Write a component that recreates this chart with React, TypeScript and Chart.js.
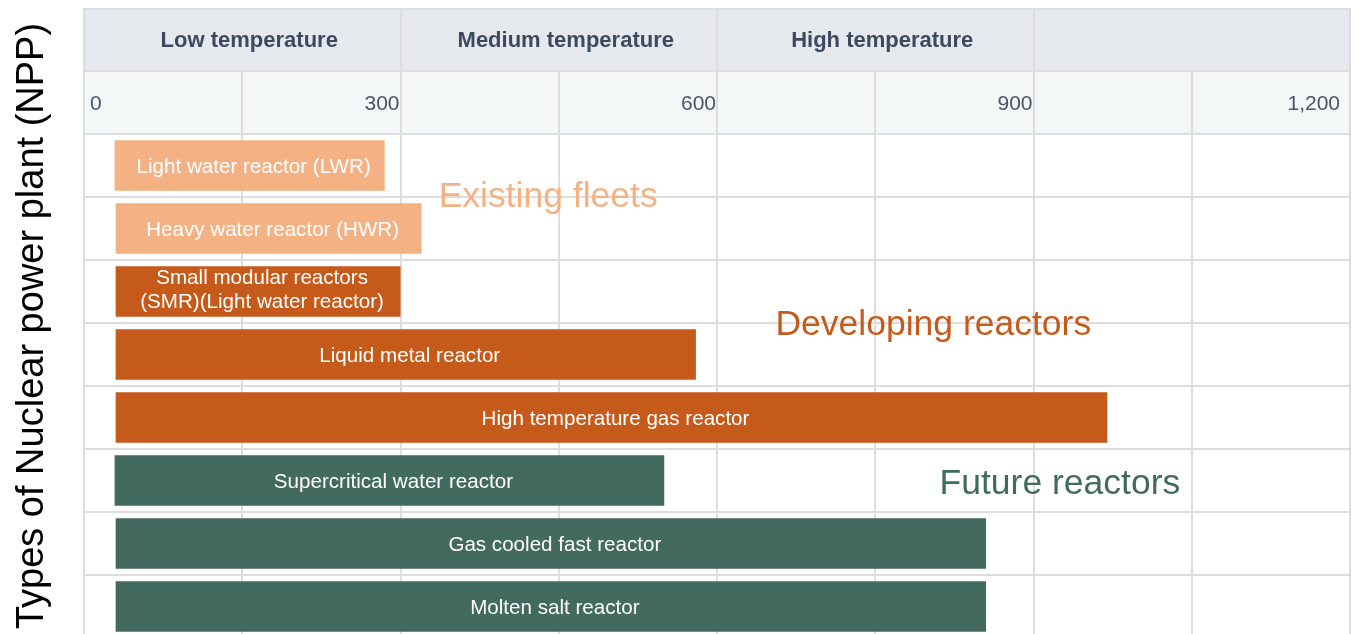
import React, { useEffect, useRef } from 'react';
import { Chart, registerables } from 'chart.js';

Chart.register(...registerables);

// ---------- data ----------
const categories = [
  'Light water reactor (LWR)',
  'Heavy water reactor (HWR)',
  'Small modular reactors (SMR)(Light water reactor)',
  'Liquid metal reactor',
  'High temperature gas reactor',
  'Supercritical water reactor',
  'Gas cooled fast reactor',
  'Molten salt reactor',
];
const barLabels: string[][] = [
  ['Light water reactor (LWR)'],
  ['Heavy water reactor (HWR)'],
  ['Small modular reactors', '(SMR)(Light water reactor)'],
  ['Liquid metal reactor'],
  ['High temperature gas reactor'],
  ['Supercritical water reactor'],
  ['Gas cooled fast reactor'],
  ['Molten salt reactor'],
];
const startTemps = [29, 30, 30, 30, 30, 29, 30, 30];
const endTemps = [285, 320, 300, 580, 970, 550, 855, 855];
const groups = ['existing', 'existing', 'developing', 'developing', 'developing', 'future', 'future', 'future'];

const groupColors: Record<string, string> = {
  existing: '#f4b183',
  developing: '#c55a1a',
  future: '#436a5f',
};

const bandLabels = ['Low temperature', 'Medium temperature', 'High temperature', ''];
const bandEdges = [0, 300, 600, 900, 1200];
const tickValues = [0, 300, 600, 900, 1200];
const tickLabels = ['0', '300', '600', '900', '1,200'];
const gridValues = [0, 150, 300, 450, 600, 750, 900, 1050, 1200];

const annotationTexts = ['Existing fleets', 'Developing reactors', 'Future reactors'];
const annotationGroups = ['existing', 'developing', 'future'];
const annotationX = [440, 805, 925];
const annotationRow = [0.45, 2.49, 5.02];

const yTitle = 'Types of Nuclear power plant (NPP)';

// ---------- styles ----------
const FONT = '"Liberation Sans", Arial, Helvetica, sans-serif';
const GRID = '#dddddd';
const HEADER1_BG = '#e5e9ee';
const HEADER2_BG = '#f4f7f8';
const HEADER_TEXT = '#3d4a5e';
const TICK_TEXT = '#4a5567';

const headerPlugin = {
  id: 'headerPlugin',
  beforeDraw(chart: any) {
    const { ctx, chartArea } = chart;
    const { left, right, top } = chartArea;
    const xs = chart.scales.x;
    const r1Top = 1;
    const r1Bot = 63;
    ctx.save();
    ctx.fillStyle = HEADER1_BG;
    ctx.fillRect(left, r1Top, right - left, r1Bot - r1Top);
    ctx.fillStyle = HEADER2_BG;
    ctx.fillRect(left, r1Bot, right - left, top - r1Bot);

    ctx.strokeStyle = GRID;
    ctx.lineWidth = 2;
    ctx.beginPath();
    ctx.moveTo(left - 1, r1Top);
    ctx.lineTo(right + 1, r1Top);
    ctx.moveTo(left, r1Bot);
    ctx.lineTo(right, r1Bot);
    bandEdges.forEach((v) => {
      const px = Math.round(xs.getPixelForValue(v));
      ctx.moveTo(px, r1Top);
      ctx.lineTo(px, r1Bot);
    });
    gridValues.forEach((v) => {
      const px = Math.round(xs.getPixelForValue(v));
      ctx.moveTo(px, r1Bot);
      ctx.lineTo(px, top);
    });
    ctx.stroke();

    // band labels
    ctx.fillStyle = HEADER_TEXT;
    ctx.font = `bold 22px ${FONT}`;
    ctx.textAlign = 'center';
    ctx.textBaseline = 'alphabetic';
    bandLabels.forEach((lab, i) => {
      if (!lab) return;
      const cx = (xs.getPixelForValue(bandEdges[i]) + xs.getPixelForValue(bandEdges[i + 1])) / 2 + 7;
      ctx.fillText(lab, cx, 39);
    });

    // tick labels
    ctx.fillStyle = TICK_TEXT;
    ctx.font = `21px ${FONT}`;
    const last = tickValues.length - 1;
    tickValues.forEach((v, i) => {
      const px = xs.getPixelForValue(v);
      if (i === 0) {
        ctx.textAlign = 'left';
        ctx.fillText(tickLabels[i], px + 6, 102);
      } else {
        ctx.textAlign = 'right';
        ctx.fillText(tickLabels[i], px - (i === last ? 10 : 1), 102);
      }
    });

    // y title
    ctx.save();
    ctx.translate(35, 318);
    ctx.rotate(-Math.PI / 2);
    ctx.fillStyle = '#000000';
    ctx.font = `38px ${FONT}`;
    ctx.textAlign = 'center';
    ctx.textBaseline = 'alphabetic';
    ctx.fillText(yTitle, 0, 0);
    ctx.restore();

    ctx.restore();
  },
  afterDatasetsDraw(chart: any) {
    const { ctx } = chart;
    const xs = chart.scales.x;
    const ys = chart.scales.y;
    const meta = chart.getDatasetMeta(0);
    ctx.save();
    // bar labels
    ctx.fillStyle = '#ffffff';
    ctx.font = `20.6px ${FONT}`;
    ctx.textAlign = 'center';
    ctx.textBaseline = 'alphabetic';
    meta.data.forEach((bar: any, i: number) => {
      const cx = (bar.x + bar.base) / 2 + 4;
      const cy = bar.y;
      const lines = barLabels[i];
      const n = lines.length;
      lines.forEach((line, j) => {
        const by = cy + 7.3 + (j - (n - 1) / 2) * 24 - (n > 1 ? 2.5 : 0);
        ctx.fillText(line, cx, by);
      });
    });

    // group annotations
    ctx.font = `35.5px ${FONT}`;
    annotationTexts.forEach((t, i) => {
      ctx.fillStyle = groupColors[annotationGroups[i]];
      const px = xs.getPixelForValue(annotationX[i]);
      const py = ys.getPixelForValue(annotationRow[i]);
      ctx.fillText(t, px, py + 0.358 * 35.5);
    });
    ctx.restore();
  },
};

export default function App() {
  const ref = useRef<HTMLCanvasElement>(null);
  useEffect(() => {
    document.documentElement.style.overflow = 'hidden';
    const chart = new Chart(ref.current as HTMLCanvasElement, {
      type: 'bar',
      data: {
        labels: categories,
        datasets: [
          {
            data: startTemps.map((s, i) => [s, endTemps[i]]) as any,
            backgroundColor: groups.map((g) => groupColors[g]),
            borderWidth: 0,
            categoryPercentage: 1,
            barPercentage: 0.8,
          },
        ],
      },
      options: {
        indexAxis: 'y',
        responsive: false,
        animation: false,
        layout: { padding: { left: 76, right: 1, top: 126, bottom: 4 } },
        plugins: {
          legend: { display: false },
          tooltip: { enabled: false },
        },
        scales: {
          x: {
            type: 'linear',
            position: 'top',
            min: 0,
            max: 1200,
            ticks: { display: false, stepSize: 150 },
            grid: { color: GRID, lineWidth: 2, drawTicks: false },
            border: { display: false },
          },
          y: {
            type: 'category',
            ticks: { display: false },
            grid: { color: GRID, lineWidth: 2, drawTicks: false, offset: true },
            border: { display: false },
          },
        },
      },
      plugins: [headerPlugin],
    });
    return () => chart.destroy();
  }, []);
  return (
    <div
      style={{
        position: 'fixed',
        left: 8,
        top: 8,
        width: 1343,
        height: 626,
        overflow: 'hidden',
        background: '#ffffff',
      }}
    >
      <canvas ref={ref} width={1343} height={634} style={{ display: 'block' }} />
    </div>
  );
}
